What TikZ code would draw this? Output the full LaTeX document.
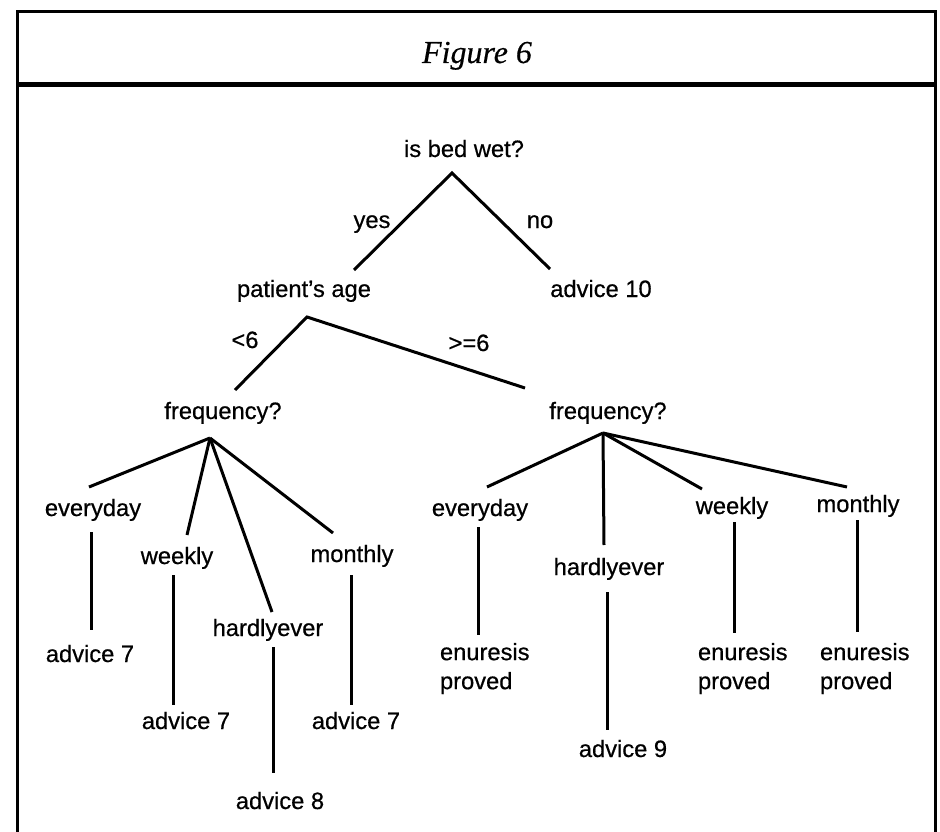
\documentclass[tikz,border=0pt]{standalone}
\usepackage{fontspec}
\setmainfont{Liberation Sans}[FakeBold=0.6]
\newfontfamily\titlefont{Liberation Serif}[FakeBold=0.4]
\begin{document}
\begin{tikzpicture}[x=1pt,y=-1pt,
  lbl/.style={inner sep=0pt, outer sep=0pt, font=\fontsize{23.7}{29}\selectfont, anchor=base},
  twoline/.style={lbl, align=left, anchor=north west},
  edge/.style={line width=3pt},
  frame/.style={line width=3pt}]
\useasboundingbox (0,0) rectangle (940,832);
% frame
\draw[frame] (17,832) -- (17,12) -- (935,12) -- (935,832);
\draw[line width=5pt] (17,85) -- (935,85);
\node[inner sep=0pt, anchor=base, font=\titlefont\itshape\fontsize{32}{36}\selectfont] (title) at (477,63) {Figure 6};

% labels
\node[lbl] (root) at (464,157) {is bed wet?};
\node[lbl] (yes) at (372,228) {yes};
\node[lbl] (no) at (540,228) {no};
\node[lbl] (age) at (304,297) {patient's age};
\node[lbl] (adv10) at (601,297) {advice 10};
\node[lbl] (lt6) at (245,348) {<6};
\node[lbl] (ge6) at (469,351) {>=6};
\node[lbl] (freqL) at (223,419) {frequency?};
\node[lbl] (freqR) at (608,419) {frequency?};

\node[lbl] (evL) at (93,516) {everyday};
\node[lbl] (wkL) at (177,564) {weekly};
\node[lbl] (hdL) at (268,636) {hardlyever};
\node[lbl] (moL) at (352,562) {monthly};
\node[lbl] (a7a) at (90,662) {advice 7};
\node[lbl] (a7b) at (186,729) {advice 7};
\node[lbl] (a7c) at (356,729) {advice 7};
\node[lbl] (a8) at (280,809) {advice 8};

\node[lbl] (evR) at (480,516) {everyday};
\node[lbl] (hdR) at (609,575) {hardlyever};
\node[lbl] (wkR) at (732,514) {weekly};
\node[lbl] (moR) at (858,512) {monthly};
\node[twoline] (enA) at (440,643) {enuresis\\proved};
\node[twoline] (enB) at (698,643) {enuresis\\proved};
\node[twoline] (enC) at (820,643) {enuresis\\proved};
\node[lbl] (a9) at (623,757) {advice 9};

% connector end points
\coordinate (rootA) at (452,173);
\coordinate (rootL) at (354,270);
\coordinate (rootR) at (550,269);
\coordinate (ageA) at (307,317);
\coordinate (ageL) at (235,390);
\coordinate (ageR) at (525,388);
\coordinate (fLA) at (210,438);
\coordinate (fRA) at (603,433);

\draw[edge] (rootL) -- (rootA) -- (rootR);
\draw[edge] (ageL) -- (ageA) -- (ageR);

% left frequency
\draw[edge] (fLA) -- (89,487);
\draw[edge] (fLA) -- (187,535);
\draw[edge] (fLA) -- (272,612);
\draw[edge] (fLA) -- (333,533);
\draw[edge] (91,532) -- (91,630);
\draw[edge] (173,575) -- (173,705);
\draw[edge] (273,647) -- (273,773);
\draw[edge] (351,575) -- (351,705);

% right frequency
\draw[edge] (fRA) -- (487,487);
\draw[edge] (fRA) -- (604,545);
\draw[edge] (fRA) -- (702,489);
\draw[edge] (fRA) -- (847,487);
\draw[edge] (478,527) -- (478,635);
\draw[edge] (607,592) -- (607,730);
\draw[edge] (734,522) -- (734,633);
\draw[edge] (857,520) -- (857,632);
\end{tikzpicture}
\end{document}
